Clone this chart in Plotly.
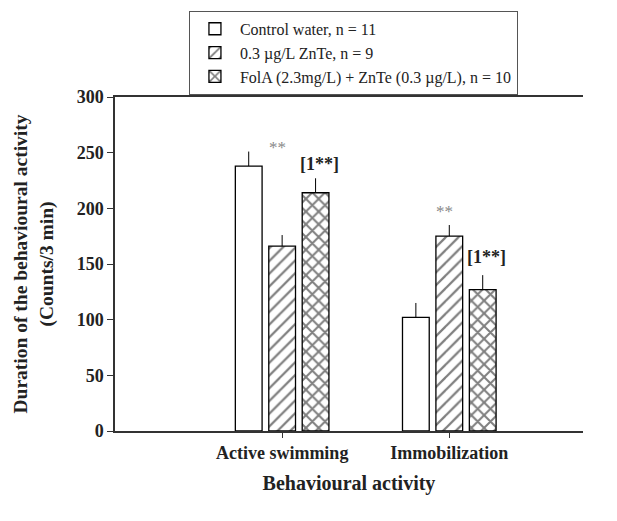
import plotly.graph_objects as go

categories = ["Active swimming", "Immobilization"]
series_names = ["Control water, n = 11", "0.3 µg/L ZnTe, n = 9", "FolA (2.3mg/L) + ZnTe (0.3 µg/L), n = 10"]
control = [238, 102]
znte = [166, 175]
fola = [214, 127]
control_err = [13, 13]
znte_err = [10, 10]
fola_err = [13, 13]
star_labels = ["**", "**"]
star_y = [255, 197]
bracket_labels = ["[1**]", "[1**]"]
bracket_y = [240, 156]

FONT = "Liberation Serif"
xpos = [0, 1]

fig = go.Figure()
patterns = ["", "/", "x"]
sizes = [8, 9, 9]
solid = [0.2, 0.25, 0.4]
vals = [control, znte, fola]
errs = [control_err, znte_err, fola_err]
for name, v, e, p, s, so in zip(series_names, vals, errs, patterns, sizes, solid):
    fig.add_trace(go.Bar(
        x=xpos, y=v, name=name,
        marker=dict(color="white", line=dict(color="black", width=1.3),
                    pattern=dict(shape=p, fgcolor="black", bgcolor="white", size=s, solidity=so)),
        error_y=dict(type="data", symmetric=False, array=e, arrayminus=[0, 0],
                     width=0, thickness=1, color="black"),
    ))

for i in range(2):
    fig.add_annotation(x=xpos[i], y=star_y[i], text=star_labels[i], showarrow=False,
                       xshift=-5, font=dict(family=FONT, size=17, color="#888888"))
    fig.add_annotation(x=xpos[i] + 0.2, y=bracket_y[i], text="<b>" + bracket_labels[i] + "</b>",
                       showarrow=False, xshift=4, font=dict(family=FONT, size=18, color="#222222"))

fig.update_layout(
    width=609, height=513,
    margin=dict(l=107, r=34, t=89, b=90, autoexpand=False),
    paper_bgcolor="white", plot_bgcolor="white",
    barmode="group", bargap=0.4, bargroupgap=0.2,
    font=dict(family=FONT, size=17, color="#222222"),
    legend=dict(x=0.158, y=1.258, xanchor="left", yanchor="top",
                bordercolor="#555555", borderwidth=1, bgcolor="white",
                font=dict(family=FONT, size=16, color="#222222"),
                tracegroupgap=0, itemwidth=40),
    xaxis=dict(range=[-1.0, 1.8], tickvals=xpos, ticktext=["<b>" + c + "</b>" for c in categories],
               automargin=False,
               showline=True, linecolor="#333333", linewidth=1.5, mirror=True,
               ticks="outside", ticklen=5, tickcolor="#333333", showgrid=False, zeroline=False,
               tickfont=dict(family=FONT, size=18, color="#222222"),
               title=dict(text="<b>Behavioural activity</b>", font=dict(family=FONT, size=20, color="#222222"), standoff=14)),
    yaxis=dict(range=[0, 300], tickvals=[0, 50, 100, 150, 200, 250, 300],
               ticktext=["<b>%d</b>" % t for t in [0, 50, 100, 150, 200, 250, 300]],
               automargin=False,
               showline=True, linecolor="#333333", linewidth=1.5,
               ticks="outside", ticklen=6, tickcolor="#333333", showgrid=False, zeroline=False,
               tickfont=dict(family=FONT, size=18, color="#222222"),
               title=dict(text="<b>Duration of the behavioural activity<br>(Counts/3 min)</b>",
                          font=dict(family=FONT, size=19.5, color="#222222"), standoff=18)),
)

fig.write_html("out.html")
